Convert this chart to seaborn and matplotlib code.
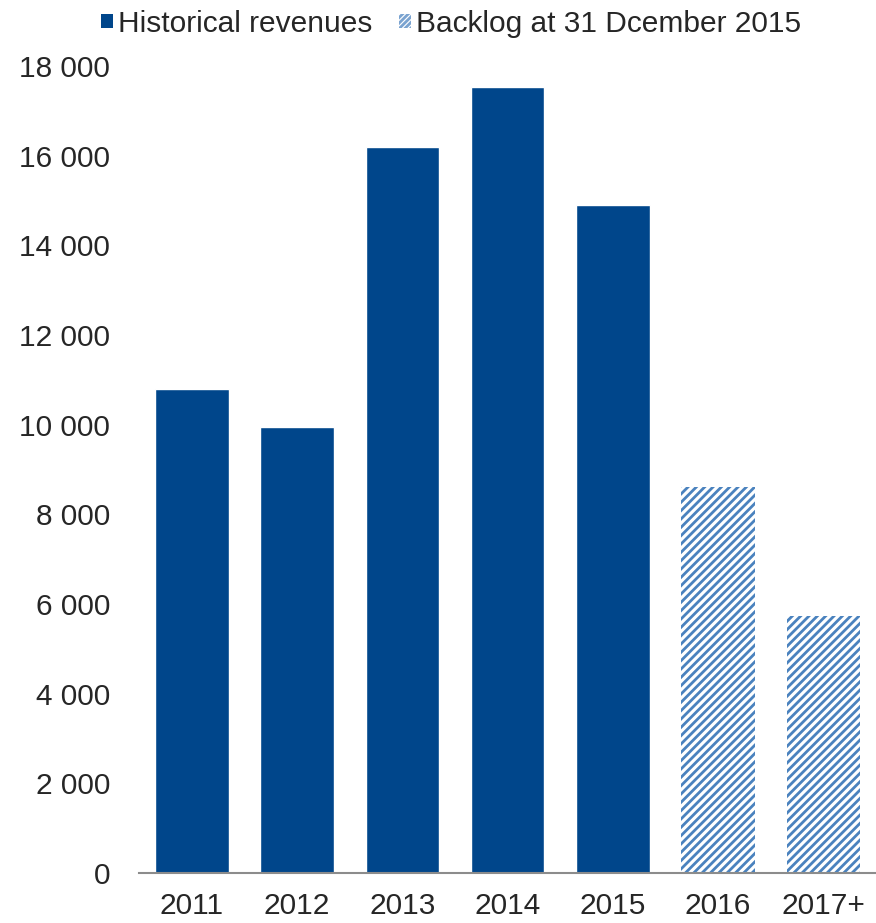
import matplotlib
matplotlib.use("Agg")
import matplotlib.pyplot as plt
import seaborn as sns
import pandas as pd
from matplotlib.patches import Patch

years = ["2011", "2012", "2013", "2014", "2015", "2016", "2017+"]
values = [10800, 9950, 16200, 17530, 14900, 8600, 5730]
series = ["Historical revenues"] * 5 + ["Backlog at 31 Dcember 2015"] * 2
yticks = [0, 2000, 4000, 6000, 8000, 10000, 12000, 14000, 16000, 18000]
ytick_labels = ["0", "2 000", "4 000", "6 000", "8 000", "10 000", "12 000", "14 000", "16 000", "18 000"]

df = pd.DataFrame({"year": years, "value": values, "series": series})

sns.set_theme(style="white")
plt.rcParams["font.family"] = ["Liberation Sans", "DejaVu Sans"]
plt.rcParams["hatch.linewidth"] = 2.0
plt.rcParams["hatch.color"] = "#4a82be"

FS = 21.5
fig, ax = plt.subplots(figsize=(8.76, 9.23), dpi=100)
sns.barplot(data=df, x="year", y="value", hue="series", dodge=False,
            palette={"Historical revenues": "#00468B", "Backlog at 31 Dcember 2015": "white"},
            width=0.70, ax=ax, legend=False, saturation=1)

for patch, s in zip(ax.patches, series):
    if s != "Historical revenues":
        patch.set_facecolor("white")
        patch.set_hatch("////")
        patch.set_edgecolor("#4a82be")
        patch.set_linewidth(0)

ax.set_ylim(0, 18000)
ax.set_yticks(yticks)
ax.set_yticklabels(ytick_labels, fontsize=FS)
ax.tick_params(axis="x", labelsize=FS, pad=14, length=0)
ax.tick_params(axis="y", length=0, pad=21)
ax.set_xlabel("")
ax.set_ylabel("")
ax.set_xlim(-0.5, 6.5)
for side in ["left", "right", "top"]:
    ax.spines[side].set_visible(False)
ax.spines["bottom"].set_color("#8c8c8c")
ax.spines["bottom"].set_linewidth(1.5)

handles = [Patch(facecolor="#00468B", edgecolor="none", label="Historical revenues"),
           Patch(facecolor="white", edgecolor="#7aa3d0", hatch="//////", linewidth=0,
                 label="Backlog at 31 Dcember 2015")]
fig.legend(handles=handles, loc="upper left", bbox_to_anchor=(0.092, 1.012), ncol=2,
           frameon=False, fontsize=FS, handlelength=0.38, handleheight=0.38,
           handletextpad=0.18, columnspacing=0.9, borderaxespad=0.3)

fig.subplots_adjust(left=0.159, right=1.0, bottom=0.0542, top=0.9285)
fig.savefig("out.png", dpi=100)
